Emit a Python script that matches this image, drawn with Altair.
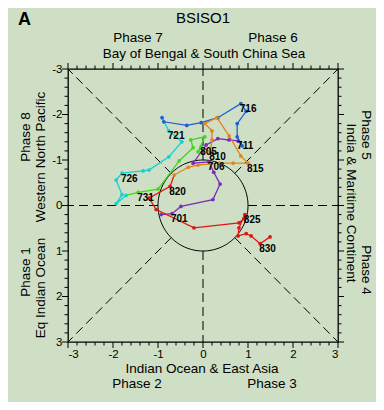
import altair as alt
import numpy as np
import pandas as pd

FONT = "Liberation Sans"
BG = "#cfdfc5"
W, H = 270, 273

# ---- trajectory segments (BSISO1 index, PC1 on x, PC2 on y) ----
seg_names = ["Jul 1-10", "Jul 11-20", "Jul 21-30", "Jul 31-Aug 9", "Aug 10-19", "Aug 20-31"]
seg_colors = ["#7a2db8", "#1e5fd2", "#14d0d0", "#3ed81c", "#e0861e", "#e01515"]

purple_x = [-0.93, -0.69, -0.49, 0.22, 0.38, 0.24, 0.13, -0.22, 0.07, 0.33, 0.58, 0.78]
purple_y = [0.20, 0.18, 0.02, -0.13, -0.47, -0.73, -0.96, -0.93, -1.33, -1.47, -1.44, -1.42]

blue_x = [0.87, 0.76, 0.76, 0.96, 0.84, 0.33, -0.04, -0.36, -0.87, -0.91]
blue_y = [-1.31, -1.51, -1.80, -2.07, -2.24, -1.93, -1.82, -1.76, -1.84, -1.93]

cyan_x = [-0.76, -0.47, -0.76, -1.20, -1.33, -1.80, -1.93, -1.80, -1.93, -1.71]
cyan_y = [-1.64, -1.40, -1.07, -0.78, -0.76, -0.71, -0.56, -0.24, -0.04, -0.22]

green_x = [-1.44, -1.00, -0.53, -0.22, -0.27, 0.04, -0.11, -0.04]
green_y = [-0.29, -0.36, -0.98, -1.27, -1.44, -1.51, -1.18, -1.29]

orange_x = [0.16, 0.20, 0.20, 0.04, 0.31, 0.58, 0.84, 1.00, 0.67, 0.36, -0.11, -0.33, -0.64]
orange_y = [-1.18, -1.44, -1.64, -1.80, -1.93, -1.53, -1.09, -0.93, -0.93, -0.93, -0.89, -0.84, -0.67]

red_x = [-0.73, -1.20, -1.04, -0.20, 0.80, 0.91, 0.93, 0.80, 0.78, 0.96, 1.07, 1.27, 1.49]
red_y = [-0.42, -0.16, 0.09, 0.49, 0.38, 0.29, 0.20, 0.49, 0.67, 0.62, 0.67, 0.84, 0.69]

label_text = ["701", "706", "711", "716", "721", "726", "731", "805", "810", "815", "820", "825", "830"]
label_x = [-0.69, 0.13, 0.78, 0.84, -0.76, -1.80, -1.44, -0.04, 0.16, 1.00, -0.73, 0.93, 1.27]
label_y = [0.18, -0.96, -1.42, -2.24, -1.64, -0.71, -0.29, -1.29, -1.18, -0.93, -0.42, 0.20, 0.84]

major_ticks = [-3, -2, -1, 0, 1, 2, 3]
minor_ticks = [round(v, 1) for v in np.arange(-3, 3.01, 0.2) if abs(v - round(v)) > 1e-6]

# ---- build tables ----
segs = [(purple_x, purple_y), (blue_x, blue_y), (cyan_x, cyan_y),
        (green_x, green_y), (orange_x, orange_y), (red_x, red_y)]
line_rows, pt_rows = [], []
for k, (xs, ys) in enumerate(segs):
    px, py = list(xs), list(ys)
    if k > 0:
        px = [segs[k - 1][0][-1]] + px
        py = [segs[k - 1][1][-1]] + py
    for i, (a, b) in enumerate(zip(px, py)):
        line_rows.append({"seg": seg_names[k], "i": i, "x": a, "y": b})
    for a, b in zip(xs, ys):
        pt_rows.append({"seg": seg_names[k], "x": a, "y": b})
lines_df = pd.DataFrame(line_rows)
pts_df = pd.DataFrame(pt_rows)
lab_df = pd.DataFrame({"t": label_text, "x": label_x, "y": label_y})

th = np.linspace(0, 2 * np.pi, 121)
circ_df = pd.DataFrame({"i": np.arange(len(th)), "x": np.cos(th), "y": np.sin(th)})

c = np.sqrt(0.5)
rays_df = pd.DataFrame({
    "x": [1, -1, 0, 0, c, -c, c, -c],
    "y": [0, 0, 1, -1, c, c, -c, -c],
    "x2": [3, -3, 0, 0, 3, -3, 3, -3],
    "y2": [0, 0, 3, -3, 3, 3, -3, -3],
})

xs_ = alt.Scale(domain=[-3, 3], nice=False, zero=False)
ys_ = alt.Scale(domain=[-3, 3], nice=False, zero=False, reverse=True)
xaxis = alt.Axis(values=major_ticks, labelExpr="'' + datum.value", tickSize=0, domain=False,
                 grid=False, labelPadding=6, labelFontSize=11.5, labelFont=FONT,
                 labelColor="black", labelBaseline="top")
yaxis = alt.Axis(values=major_ticks, labelExpr="'' + datum.value", tickSize=0, domain=False,
                 grid=False, labelPadding=6, labelFontSize=11.5, labelFont=FONT,
                 labelColor="black")


def X(f="x"):
    return alt.X(f, type="quantitative", scale=xs_, axis=xaxis, title=None)


def Y(f="y"):
    return alt.Y(f, type="quantitative", scale=ys_, axis=yaxis, title=None)


color = alt.Color("seg:N", scale=alt.Scale(domain=seg_names, range=seg_colors), legend=None)

rays = alt.Chart(rays_df).mark_rule(color="black", strokeWidth=1, strokeDash=[9, 5]).encode(
    x=X(), y=Y(), x2="x2", y2="y2")
circle = alt.Chart(circ_df).mark_line(color="black", strokeWidth=1).encode(
    x=X(), y=Y(), order="i:Q")
traj = alt.Chart(lines_df).mark_line(strokeWidth=1.3).encode(
    x=X(), y=Y(), color=color, detail="seg:N", order="i:Q")
dots = alt.Chart(pts_df).mark_circle(size=14, opacity=1).encode(x=X(), y=Y(), color=color)
labs = alt.Chart(lab_df).mark_text(align="left", baseline="middle", dx=-1, dy=5.5, fontSize=10,
                                   fontWeight="bold", font=FONT, color="black").encode(
    x=X(), y=Y(), text="t:N")


def ticks(values, side, length):
    df = pd.DataFrame({"v": values})
    ch = alt.Chart(df).mark_rule(color="black", strokeWidth=1)
    if side == "bottom":
        return ch.encode(x=X("v"), y=alt.value(H), y2=alt.value(H + length))
    if side == "top":
        return ch.encode(x=X("v"), y=alt.value(0), y2=alt.value(-length))
    if side == "left":
        return ch.encode(y=Y("v"), x=alt.value(0), x2=alt.value(-length))
    return ch.encode(y=Y("v"), x=alt.value(W), x2=alt.value(W + length))


tick_layers = []
for side in ["bottom", "top", "left", "right"]:
    tick_layers.append(ticks(major_ticks, side, 6))
    tick_layers.append(ticks(minor_ticks, side, 3.5))


def txt(s, x, y, size=13.5, weight="normal", angle=0, align="center"):
    return alt.Chart(alt.Data(values=[{}])).mark_text(
        text=s, font=FONT, fontSize=size, fontWeight=weight, angle=angle, align=align,
        baseline="alphabetic", color="black").encode(x=alt.value(x), y=alt.value(y))


texts = [
    txt("A", -50, -44, size=18, weight="bold", align="left"),
    txt("BSISO1", 135, -46, size=15),
    txt("Phase 7", 70, -27),
    txt("Phase 6", 205, -27),
    txt("Bay of Bengal & South China Sea", 136, -11),
    txt("Indian Ocean & East Asia", 134, 304),
    txt("Phase 2", 69, 319),
    txt("Phase 3", 204, 319),
    txt("Phase 8", -38, 68, angle=270),
    txt("Phase 1", -38, 203, angle=270),
    txt("Western North Pacific", -23, 88, angle=270),
    txt("Eq Indian Ocean", -23, 219, angle=270),
    txt("Phase 5", 294, 66, angle=90),
    txt("Phase 4", 294, 201, angle=90),
    txt("India & Maritime Continent", 279, 134, angle=90),
]

chart = alt.layer(rays, circle, *tick_layers, traj, dots, labs, *texts).properties(
    width=W, height=H,
    padding={"left": 60, "top": 61, "right": 38, "bottom": 60},
    autosize=alt.AutoSizeParams(type="none"),
    background=BG,
    usermeta={"embedOptions": {"defaultStyle": "body{background:#cfdfc5;}"}},
).configure_view(stroke="black", strokeWidth=1.3)

chart.save("out.html", embed_options={"renderer": "svg", "actions": False})
